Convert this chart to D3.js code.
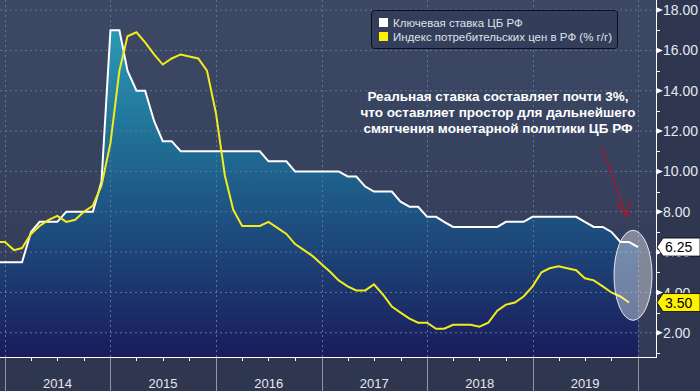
<!DOCTYPE html>
<html>
<head>
<meta charset="utf-8">
<script src="https://cdn.jsdelivr.net/npm/d3@7"></script>
<style>
	body { margin: 0; background: #333d5a; }
	svg { display: block; font-family: 'Liberation Sans', Arial, sans-serif; }
</style>
</head>
<body>
<div id="chart"></div>
<script>
'use strict';

// key rate, value on the first day of each month
var rateMonths = ['2013-12-01','2014-01-01','2014-02-01','2014-03-01','2014-04-01','2014-05-01','2014-06-01','2014-07-01','2014-08-01','2014-09-01','2014-10-01','2014-11-01','2014-12-01',
	'2015-01-01','2015-02-01','2015-03-01','2015-04-01','2015-05-01','2015-06-01','2015-07-01','2015-08-01','2015-09-01','2015-10-01','2015-11-01','2015-12-01',
	'2016-01-01','2016-02-01','2016-03-01','2016-04-01','2016-05-01','2016-06-01','2016-07-01','2016-08-01','2016-09-01','2016-10-01','2016-11-01','2016-12-01',
	'2017-01-01','2017-02-01','2017-03-01','2017-04-01','2017-05-01','2017-06-01','2017-07-01','2017-08-01','2017-09-01','2017-10-01','2017-11-01','2017-12-01',
	'2018-01-01','2018-02-01','2018-03-01','2018-04-01','2018-05-01','2018-06-01','2018-07-01','2018-08-01','2018-09-01','2018-10-01','2018-11-01','2018-12-01',
	'2019-01-01','2019-02-01','2019-03-01','2019-04-01','2019-05-01','2019-06-01','2019-07-01','2019-08-01','2019-09-01','2019-10-01','2019-11-01','2019-12-01',
	'2020-01-01'];
var keyRate = [5.5,5.5,5.5,5.5,7.0,7.5,7.5,7.5,8.0,8.0,8.0,8.0,9.5,
	17.0,17.0,15.0,14.0,14.0,12.5,11.5,11.5,11.0,11.0,11.0,11.0,
	11.0,11.0,11.0,11.0,11.0,11.0,10.5,10.5,10.5,10.0,10.0,10.0,
	10.0,10.0,10.0,9.75,9.75,9.25,9.0,9.0,9.0,8.5,8.25,8.25,
	7.75,7.75,7.5,7.25,7.25,7.25,7.25,7.25,7.25,7.5,7.5,7.5,
	7.75,7.75,7.75,7.75,7.75,7.75,7.5,7.25,7.25,7.0,6.5,6.5,
	6.25];

// CPI y/y for Nov 2013 .. Nov 2019; month m is drawn on the first day of month m+1
var cpi = [6.5,6.5,6.1,6.2,6.9,7.3,7.6,7.8,7.5,7.6,8.0,8.3,9.3,
	11.4,15.0,16.7,16.9,16.4,15.8,15.3,15.6,15.8,15.7,15.6,15.0,
	12.9,9.8,8.1,7.3,7.3,7.3,7.5,7.2,6.9,6.4,6.1,5.8,
	5.4,5.0,4.6,4.3,4.1,4.1,4.4,3.9,3.3,3.0,2.7,2.5,
	2.5,2.2,2.2,2.4,2.4,2.4,2.3,2.5,3.1,3.4,3.5,3.8,
	4.3,5.0,5.2,5.3,5.2,5.1,4.7,4.6,4.3,4.0,3.8,3.5];

var years = [2014, 2015, 2016, 2017, 2018, 2019];
var yTicks = [2, 4, 6, 8, 10, 12, 14, 16, 18];
var yMinor = [1, 3, 5, 7, 9, 11, 13, 15, 17];

var legendLabels = ['Ключевая ставка ЦБ РФ', 'Индекс потребительских цен в РФ (% г/г)'];
var noteLines = ['Реальная ставка составляет почти 3%,', 'что оставляет простор для дальнейшего', 'смягчения монетарной политики ЦБ РФ'];

var W = 700, H = 391;
var plotW = 656, plotH = 357;

var parse = d3.timeParse('%Y-%m-%d');
var rateData = rateMonths.map(function(d, i){ return { date: parse(d), value: keyRate[i] }; });
var cpiData = cpi.map(function(v, i){ return { date: parse(rateMonths[i]), value: v }; });

var svg = d3.select('#chart').append('svg')
	.attr('width', W)
	.attr('height', H);

var defs = svg.append('defs');

var bg = defs.append('linearGradient').attr('id', 'bgGrad')
	.attr('x1', 0).attr('y1', 0).attr('x2', 0).attr('y2', 1);
bg.append('stop').attr('offset', 0).attr('stop-color', '#3c4864');
bg.append('stop').attr('offset', 1).attr('stop-color', '#323b57');

var area = defs.append('linearGradient').attr('id', 'areaGrad')
	.attr('gradientUnits', 'userSpaceOnUse')
	.attr('x1', 0).attr('y1', 0).attr('x2', 0).attr('y2', plotH);
area.append('stop').attr('offset', 0).attr('stop-color', '#2aa6bd');
area.append('stop').attr('offset', 0.45).attr('stop-color', '#1f6790');
area.append('stop').attr('offset', 1).attr('stop-color', '#1a1c5c');

defs.append('clipPath').attr('id', 'plotClip')
	.append('rect').attr('width', plotW).attr('height', plotH);

// backgrounds
svg.append('rect').attr('width', W).attr('height', H).attr('fill', '#2e3650');
svg.append('rect').attr('width', plotW).attr('height', plotH).attr('fill', 'url(#bgGrad)');

// scales: Jan 1 2014 at x=5, Jan 1 2020 at x=638
var x = d3.scaleTime()
	.domain([new Date(2014, 0, 1), new Date(2020, 0, 1)])
	.range([5, 638]);
x.domain([x.invert(0), x.invert(plotW)]).range([0, plotW]);

var y = d3.scaleLinear()
	.domain([0.8, 18.5])
	.range([plotH, 0]);

var plot = svg.append('g').attr('clip-path', 'url(#plotClip)');

// area under key rate
plot.append('path')
	.datum(rateData)
	.attr('fill', 'url(#areaGrad)')
	.attr('d', d3.area()
		.x(function(d){ return x(d.date); })
		.y0(plotH)
		.y1(function(d){ return y(d.value); }));

// grid
plot.selectAll('.hgrid').data(yTicks).enter().append('line')
	.attr('x1', 0).attr('x2', plotW)
	.attr('y1', function(d){ return y(d); })
	.attr('y2', function(d){ return y(d); })
	.attr('stroke', '#5e7596')
	.attr('stroke-width', 1)
	.attr('stroke-dasharray', '2,3');

plot.selectAll('.vgrid').data(years.concat([2020])).enter().append('line')
	.attr('x1', function(d){ return Math.round(x(new Date(d, 0, 1))) + 0.5; })
	.attr('x2', function(d){ return Math.round(x(new Date(d, 0, 1))) + 0.5; })
	.attr('y1', 0).attr('y2', plotH)
	.attr('stroke', '#5e7596')
	.attr('stroke-width', 1)
	.attr('stroke-dasharray', '2,3');

// lines
plot.append('path')
	.datum(rateData)
	.attr('fill', 'none')
	.attr('stroke', '#ffffff')
	.attr('stroke-width', 2)
	.attr('d', d3.line()
		.x(function(d){ return x(d.date); })
		.y(function(d){ return y(d.value); }));

plot.append('path')
	.datum(cpiData)
	.attr('fill', 'none')
	.attr('stroke', '#f3ec1c')
	.attr('stroke-width', 2)
	.attr('d', d3.line()
		.x(function(d){ return x(d.date); })
		.y(function(d){ return y(d.value); }));

// highlight ellipse
var last = rateData[rateData.length - 1];
svg.append('ellipse')
	.attr('cx', x(last.date) - 5)
	.attr('cy', y(4.85))
	.attr('rx', 19)
	.attr('ry', 45)
	.attr('fill', 'rgba(255,255,255,0.38)')
	.attr('stroke', 'rgba(255,255,255,0.85)')
	.attr('stroke-width', 1);

// red arrow
svg.append('line')
	.attr('x1', 602).attr('y1', 147)
	.attr('x2', 627).attr('y2', 217)
	.attr('stroke', '#a3192f')
	.attr('stroke-width', 1.5);
svg.append('polyline')
	.attr('points', '617,203 627,217 630,201')
	.attr('fill', 'none')
	.attr('stroke', '#a3192f')
	.attr('stroke-width', 1.5);

// bottom axis
svg.append('line')
	.attr('x1', 0).attr('x2', plotW)
	.attr('y1', plotH + 0.5).attr('y2', plotH + 0.5)
	.attr('stroke', '#ffffff');

var quarters = d3.timeMonth.every(3).range(new Date(2014, 0, 1), new Date(2020, 0, 2));
svg.selectAll('.qtick').data(quarters).enter().append('line')
	.attr('x1', function(d){ return Math.round(x(d)) + 0.5; })
	.attr('x2', function(d){ return Math.round(x(d)) + 0.5; })
	.attr('y1', plotH).attr('y2', plotH + 4)
	.attr('stroke', '#ffffff');

svg.selectAll('.ysep').data(years.concat([2020])).enter().append('line')
	.attr('x1', function(d){ return Math.round(x(new Date(d, 0, 1))) + 0.5; })
	.attr('x2', function(d){ return Math.round(x(new Date(d, 0, 1))) + 0.5; })
	.attr('y1', plotH + 1).attr('y2', H)
	.attr('stroke', '#8f96a8');

svg.selectAll('.ylabel').data(years).enter().append('text')
	.attr('x', function(d){ return x(new Date(d, 6, 2)); })
	.attr('y', 388)
	.attr('text-anchor', 'middle')
	.attr('fill', '#e6e8ee')
	.style('font-size', '13px')
	.text(function(d){ return d; });

// right axis
svg.append('line')
	.attr('x1', plotW + 0.5).attr('x2', plotW + 0.5)
	.attr('y1', 0).attr('y2', plotH + 1)
	.attr('stroke', '#ffffff');

svg.selectAll('.minor').data(yMinor).enter().append('line')
	.attr('x1', plotW).attr('x2', plotW + 4)
	.attr('y1', function(d){ return Math.round(y(d)) + 0.5; })
	.attr('y2', function(d){ return Math.round(y(d)) + 0.5; })
	.attr('stroke', '#ffffff');

var major = svg.selectAll('.major').data(yTicks).enter().append('g')
	.attr('transform', function(d){ return 'translate(' + plotW + ',' + y(d) + ')'; });
major.append('path')
	.attr('d', 'M0,-3L7,0L0,3Z')
	.attr('fill', '#ffffff');
major.append('text')
	.attr('x', 7)
	.attr('dy', '0.36em')
	.attr('fill', '#e6e8ee')
	.style('font-size', '14px')
	.text(function(d){ return d3.format('.2f')(d); });

// last value tags
function tag(value, fill) {
	var g = svg.append('g').attr('transform', 'translate(' + plotW + ',' + y(value) + ')');
	g.append('path')
		.attr('d', 'M1,0L7,-9L44,-9L44,9L7,9Z')
		.attr('fill', fill)
		.attr('stroke', '#000')
		.attr('stroke-width', 0.8);
	g.append('text')
		.attr('x', 9)
		.attr('dy', '0.36em')
		.attr('fill', '#000')
		.style('font-size', '14px')
		.text(d3.format('.2f')(value));
}
tag(keyRate[keyRate.length - 1], '#ffffff');
tag(cpi[cpi.length - 1], '#fff200');

// legend
var legend = svg.append('g').attr('transform', 'translate(371,10)');
legend.append('rect')
	.attr('x', 0.5).attr('y', 0.5)
	.attr('width', 246).attr('height', 38)
	.attr('rx', 3)
	.attr('fill', '#343e5b')
	.attr('stroke', '#0d0f18');
var item = legend.selectAll('.item').data(legendLabels).enter().append('g')
	.attr('transform', function(d, i){ return 'translate(8,' + (8 + i * 14) + ')'; });
item.append('rect')
	.attr('width', 9).attr('height', 9)
	.attr('fill', function(d, i){ return i === 0 ? '#ffffff' : '#fff200'; });
item.append('text')
	.attr('x', 14).attr('y', 4.5)
	.attr('dy', '0.35em')
	.attr('fill', '#dfe2ea')
	.style('font-size', '11.5px')
	.text(function(d){ return d; });

// note
svg.append('text')
	.attr('x', 498)
	.attr('y', 101)
	.attr('text-anchor', 'middle')
	.attr('fill', '#ffffff')
	.style('font-size', '13.5px')
	.style('font-weight', 'bold')
	.selectAll('tspan').data(noteLines).enter().append('tspan')
	.attr('x', 498)
	.attr('dy', function(d, i){ return i === 0 ? 0 : 15.8; })
	.text(function(d){ return d; });
</script>
</body>
</html>
